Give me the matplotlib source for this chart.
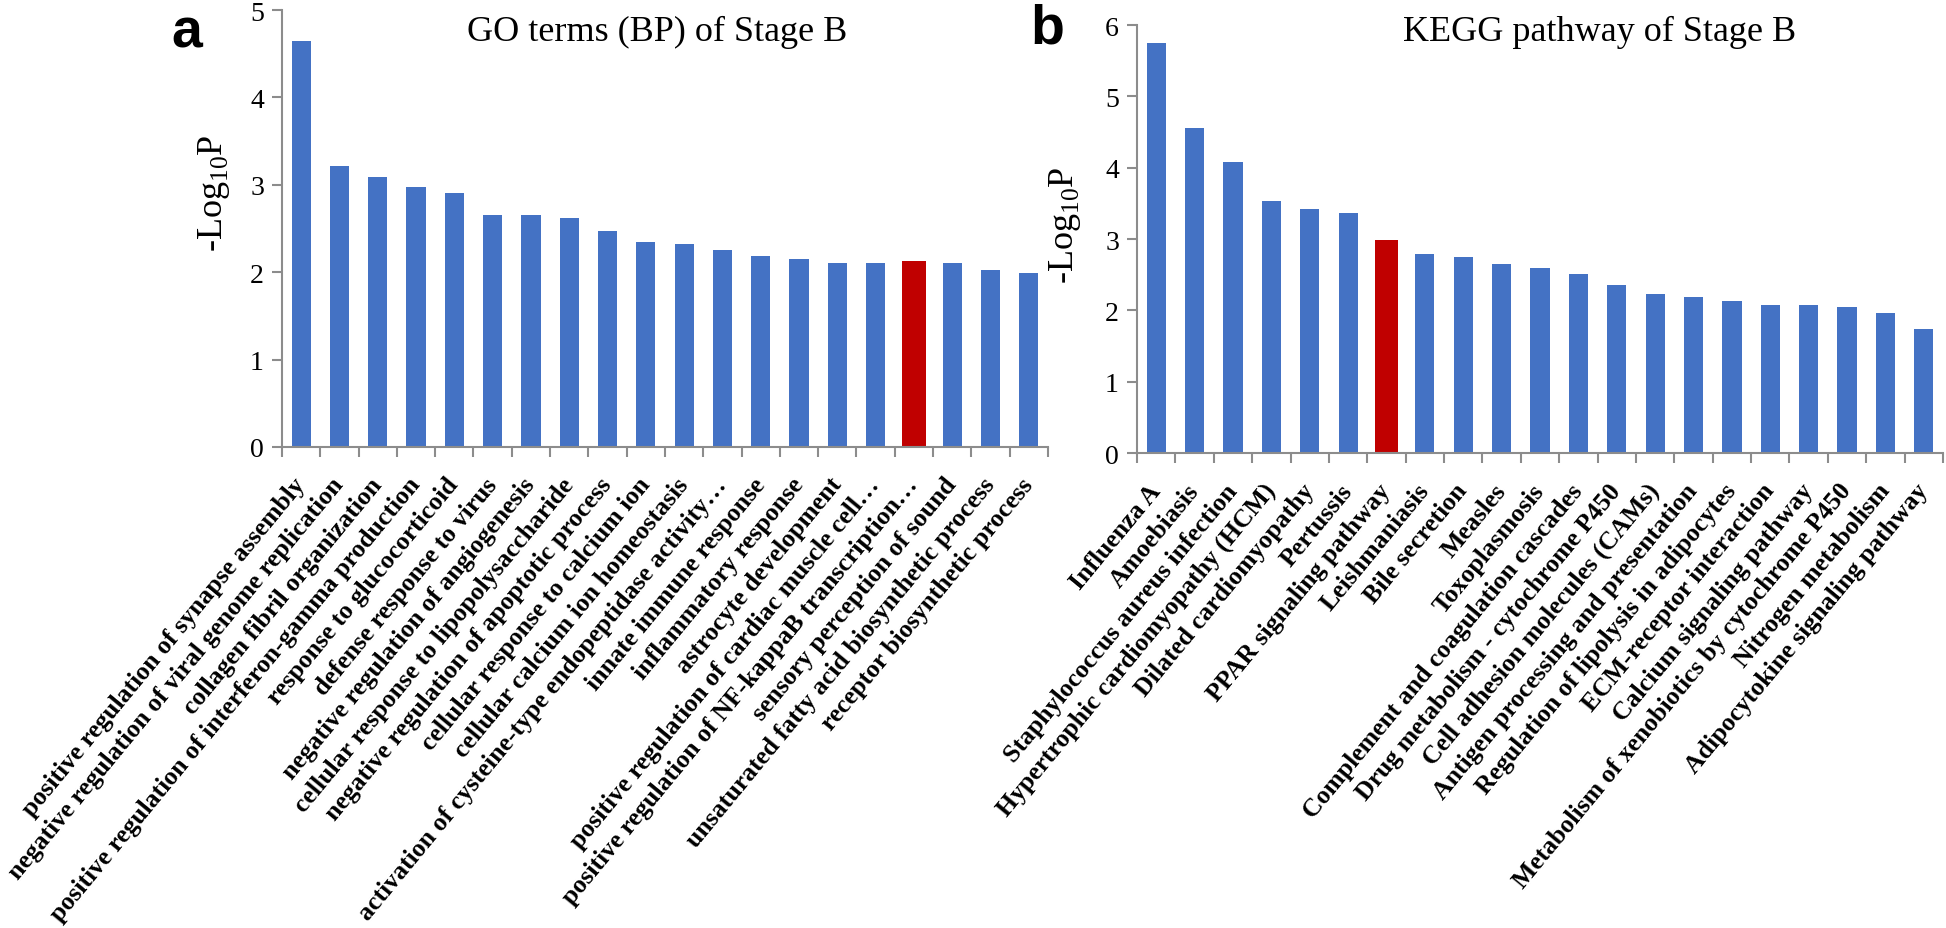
import numpy as np
import matplotlib
matplotlib.use("Agg")
import matplotlib.pyplot as plt

plt.rcParams['font.family'] = ['Liberation Serif', 'DejaVu Serif']
plt.rcParams['mathtext.fontset'] = 'custom'
plt.rcParams['mathtext.rm'] = 'Liberation Serif'

go_terms = [
    "positive regulation of synapse assembly",
    "negative regulation of viral genome replication",
    "collagen fibril organization",
    "positive regulation of interferon-gamma production",
    "response to glucocorticoid",
    "defense response to virus",
    "negative regulation of angiogenesis",
    "cellular response to lipopolysaccharide",
    "negative regulation of apoptotic process",
    "cellular response to calcium ion",
    "cellular calcium ion homeostasis",
    "activation of cysteine-type endopeptidase activity\u2026",
    "innate immune response",
    "inflammatory response",
    "astrocyte development",
    "positive regulation of cardiac muscle cell\u2026",
    "positive regulation of NF-kappaB transcription\u2026",
    "sensory perception of sound",
    "unsaturated fatty acid biosynthetic process",
    "receptor biosynthetic process",
]
go_values = [4.65, 3.21, 3.09, 2.97, 2.91, 2.66, 2.66, 2.62, 2.47, 2.35,
             2.32, 2.25, 2.18, 2.15, 2.11, 2.11, 2.13, 2.11, 2.03, 1.99]
go_highlight = 16

kegg_terms = [
    "Influenza A",
    "Amoebiasis",
    "Staphylococcus aureus infection",
    "Hypertrophic cardiomyopathy (HCM)",
    "Dilated cardiomyopathy",
    "Pertussis",
    "PPAR signaling pathway",
    "Leishmaniasis",
    "Bile secretion",
    "Measles",
    "Toxoplasmosis",
    "Complement and coagulation cascades",
    "Drug metabolism - cytochrome P450",
    "Cell adhesion molecules (CAMs)",
    "Antigen processing and presentation",
    "Regulation of lipolysis in adipocytes",
    "ECM-receptor interaction",
    "Calcium signaling pathway",
    "Metabolism of xenobiotics by cytochrome P450",
    "Nitrogen metabolism",
    "Adipocytokine signaling pathway",
]
kegg_values = [5.75, 4.56, 4.08, 3.53, 3.42, 3.37, 2.98, 2.79, 2.75, 2.65, 2.60,
               2.51, 2.36, 2.23, 2.19, 2.13, 2.07, 2.07, 2.04, 1.96, 1.74]
kegg_highlight = 6

BLUE = '#4472C4'
RED = '#C00000'
GRAY = '#8C8C8C'

W, H = 1946, 929
fig = plt.figure(figsize=(W / 100, H / 100), dpi=100)


def px_rect(x0, y0, x1, y1):
    return [x0 / W, 1 - y1 / H, (x1 - x0) / W, (y1 - y0) / H]


def draw_panel(ax, labels, values, hi, ymax):
    n = len(labels)
    x = np.arange(n)
    colors = [RED if i == hi else BLUE for i in range(n)]
    widths = [0.62 if i == hi else 0.5 for i in range(n)]
    ax.bar(x, values, width=widths, color=colors, zorder=2)
    ax.set_xlim(-0.5, n - 0.5)
    ax.set_ylim(0, ymax)
    ax.set_yticks(range(ymax + 1))
    ax.set_xticks(x)
    ax.set_xticklabels(labels, rotation=50.5, ha='right', va='center',
                       rotation_mode='anchor', fontsize=18.5, fontweight='bold')
    ax.set_xticks(np.arange(-0.5, n), minor=True)
    ax.tick_params(axis='x', which='major', length=0, pad=24)
    ax.tick_params(axis='x', which='minor', length=7, width=1.5, color=GRAY, direction='out')
    ax.tick_params(axis='y', length=7, width=1.5, color=GRAY, direction='out',
                   labelsize=20, pad=6)
    for s in ['top', 'right']:
        ax.spines[s].set_visible(False)
    for s in ['left', 'bottom']:
        ax.spines[s].set_color(GRAY)
        ax.spines[s].set_linewidth(1.5)


ax1 = fig.add_axes(px_rect(282, 11, 1048, 448))
draw_panel(ax1, go_terms, go_values, go_highlight, 5)

ax2 = fig.add_axes(px_rect(1137, 26, 1943, 454))
draw_panel(ax2, kegg_terms, kegg_values, kegg_highlight, 6)

fig.text(657 / W, 1 - 32 / H, "GO terms (BP) of Stage B", fontsize=26,
         ha='center', va='center')
fig.text(1600 / W, 1 - 32 / H, "KEGG pathway of Stage B", fontsize=26,
         ha='center', va='center')

fig.text(214 / W, 1 - 193 / H, r'-Log$_{\mathregular{10}}$P', fontsize=26,
         rotation=90, ha='center', va='center')
fig.text(1065 / W, 1 - 225 / H, r'-Log$_{\mathregular{10}}$P', fontsize=26,
         rotation=90, ha='center', va='center')

fig.text(187 / W, 1 - 33 / H, 'a', fontsize=40, fontweight='bold',
         family='Liberation Sans', ha='center', va='center')
fig.text(1047 / W, 1 - 30 / H, 'b', fontsize=40, fontweight='bold',
         family='Liberation Sans', ha='center', va='center')

fig.savefig('out.png', dpi=100)
